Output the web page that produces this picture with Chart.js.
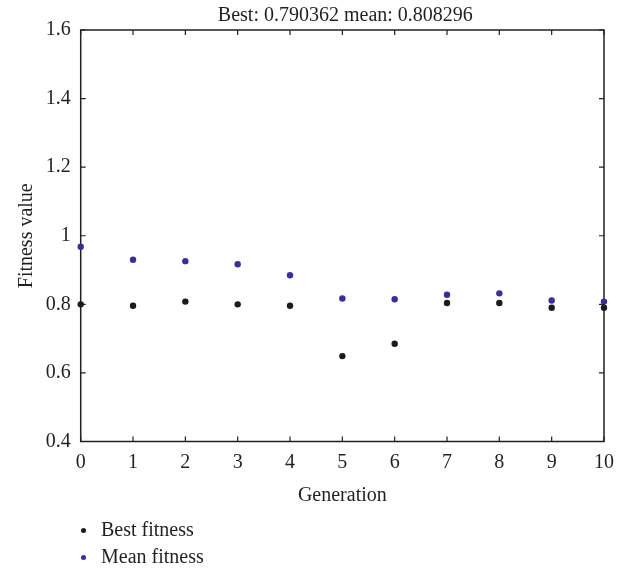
<!DOCTYPE html>
<html>
<head>
<meta charset="utf-8">
<script src="https://cdn.jsdelivr.net/npm/chart.js@4.4.1/dist/chart.umd.min.js"></script>
<style>
  body { margin: 0; background: #fff; }
  #wrap { position: relative; width: 624px; height: 568px; }
  #legend { position: absolute; left: 0; top: 516px; font: 20px "Liberation Serif", serif; color: #231f20; }
  .item { position: relative; height: 27px; line-height: 27px; padding-left: 101px; white-space: nowrap; }
  .dot { position: absolute; left: 80.5px; top: 12px; width: 5px; height: 5px; border-radius: 50%; }
</style>
</head>
<body>
<div id="wrap">
  <canvas id="graphic" width="624" height="568"></canvas>
  <div id="legend"></div>
</div>
<script>
const ctx = document.getElementById('graphic');

let generations = [0, 1, 2, 3, 4, 5, 6, 7, 8, 9, 10];
let bestFitness = [0.800, 0.796, 0.808, 0.800, 0.796, 0.649, 0.685, 0.804, 0.804, 0.790, 0.790];
let meanFitness = [0.968, 0.930, 0.926, 0.917, 0.885, 0.817, 0.815, 0.828, 0.832, 0.811, 0.808];
let xTicks = [0, 1, 2, 3, 4, 5, 6, 7, 8, 9, 10];
let yTicks = [0.4, 0.6, 0.8, 1.0, 1.2, 1.4, 1.6];
let titulo = 'Best: 0.790362 mean: 0.808296';

const fonte = { family: '"Liberation Serif", serif', size: 20 };
const corTexto = '#231f20';

const toPoints = (ys) => generations.map((g, i) => ({ x: g, y: ys[i] }));

// box with inward ticks + title centred on the plot area
const moldura = {
    id: 'moldura',
    beforeDatasetsDraw(chart) {
        const { ctx, chartArea: a, scales } = chart;
        ctx.save();
        ctx.strokeStyle = corTexto;
        ctx.lineWidth = 1.5;
        ctx.strokeRect(a.left, a.top, a.right - a.left, a.bottom - a.top);
        ctx.lineWidth = 1.2;
        ctx.beginPath();
        scales.x.ticks.forEach(t => {
            const px = scales.x.getPixelForValue(t.value);
            ctx.moveTo(px, a.bottom); ctx.lineTo(px, a.bottom - 5);
            ctx.moveTo(px, a.top); ctx.lineTo(px, a.top + 5);
        });
        scales.y.ticks.forEach(t => {
            const py = scales.y.getPixelForValue(t.value);
            ctx.moveTo(a.left, py); ctx.lineTo(a.left + 5, py);
            ctx.moveTo(a.right, py); ctx.lineTo(a.right - 5, py);
        });
        ctx.stroke();
        ctx.fillStyle = corTexto;
        ctx.font = '20px "Liberation Serif", serif';
        ctx.textAlign = 'center';
        ctx.textBaseline = 'middle';
        ctx.fillText(titulo, (a.left + a.right) / 2 + 3, 15.5);
        ctx.restore();
    }
};

let grafico = new Chart(ctx, {
    type: 'scatter',
    data: {
        datasets: [{
            label: 'Best fitness',
            data: toPoints(bestFitness),
            backgroundColor: '#1c1a1b',
            borderColor: '#1c1a1b',
            pointRadius: 3.2,
            borderWidth: 0,
            clip: false
        }, {
            label: 'Mean fitness',
            data: toPoints(meanFitness),
            backgroundColor: '#3a2f98',
            borderColor: '#3a2f98',
            pointRadius: 3.2,
            borderWidth: 0,
            clip: false
        }]
    },
    plugins: [moldura],
    options: {
        responsive: false,
        animation: false,
        devicePixelRatio: 1,
        layout: { padding: { left: 15, top: 30, right: 20, bottom: 60 } },
        plugins: {
            legend: { display: false },
            title: { display: false },
            tooltip: { enabled: false }
        },
        scales: {
            x: {
                type: 'linear',
                min: 0,
                max: 10,
                afterBuildTicks: s => { s.ticks = xTicks.map(v => ({ value: v })); },
                afterFit: s => { s.height = 508 - 441.5; },
                ticks: { font: fonte, color: corTexto, padding: 9, maxRotation: 0 },
                grid: { drawOnChartArea: false, drawTicks: false, display: false },
                border: { display: false },
                title: { display: true, text: 'Generation', font: fonte, color: corTexto, padding: 0 }
            },
            y: {
                min: 0.4,
                max: 1.6,
                afterBuildTicks: s => { s.ticks = yTicks.map(v => ({ value: v })); },
                afterFit: s => { s.width = 80.7 - 15; },
                ticks: {
                    font: fonte, color: corTexto, padding: 10,
                    callback: v => String(Number(v.toFixed(1)))
                },
                grid: { drawOnChartArea: false, drawTicks: false, display: false },
                border: { display: false },
                title: { display: true, text: 'Fitness value', font: fonte, color: corTexto, padding: 0 }
            }
        }
    }
});

// legend below the plot, stacked like the original
const legenda = document.getElementById('legend');
grafico.data.datasets.forEach(ds => {
    const item = document.createElement('div');
    item.className = 'item';
    const dot = document.createElement('span');
    dot.className = 'dot';
    dot.style.background = ds.backgroundColor;
    item.appendChild(dot);
    item.appendChild(document.createTextNode(ds.label));
    legenda.appendChild(item);
});
</script>
</body>
</html>
